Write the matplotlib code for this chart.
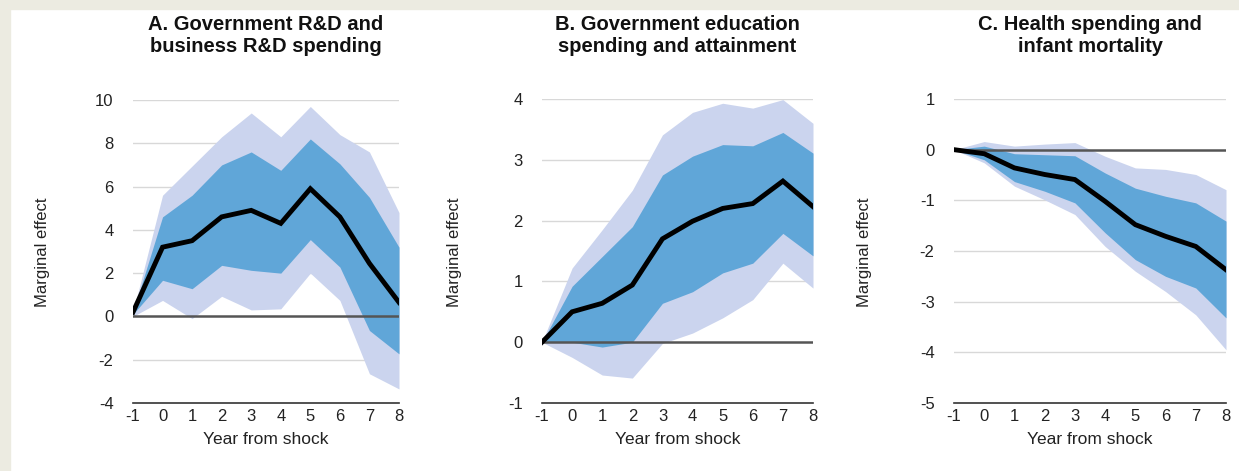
import numpy as np
import matplotlib
matplotlib.use('Agg')
import matplotlib.pyplot as plt
from matplotlib.patches import Rectangle

plt.rcParams['font.family'] = ['Liberation Sans', 'DejaVu Sans']
plt.rcParams['axes.unicode_minus'] = False

years = [-1, 0, 1, 2, 3, 4, 5, 6, 7, 8]

# Panel A: Government R&D and business R&D spending
a_mid = [0.2, 3.2, 3.5, 4.6, 4.9, 4.3, 5.9, 4.6, 2.45, 0.65]
a_in_hi = [0.2, 4.6, 5.6, 7.0, 7.6, 6.75, 8.2, 7.05, 5.5, 3.2]
a_in_lo = [0.1, 1.67, 1.28, 2.36, 2.13, 2.0, 3.55, 2.28, -0.65, -1.73]
a_out_hi = [0.2, 5.6, 6.95, 8.3, 9.4, 8.3, 9.7, 8.4, 7.6, 4.8]
a_out_lo = [0.0, 0.74, -0.1, 0.93, 0.3, 0.35, 2.0, 0.74, -2.65, -3.35]

# Panel B: Government education spending and attainment
b_mid = [0.0, 0.5, 0.64, 0.94, 1.7, 1.99, 2.2, 2.28, 2.65, 2.23]
b_in_hi = [0.0, 0.92, 1.41, 1.9, 2.75, 3.06, 3.25, 3.23, 3.45, 3.11]
b_in_lo = [0.0, 0.0, -0.08, 0.0, 0.64, 0.83, 1.14, 1.3, 1.79, 1.42]
b_out_hi = [0.0, 1.22, 1.85, 2.5, 3.41, 3.78, 3.93, 3.85, 3.99, 3.6]
b_out_lo = [0.0, -0.25, -0.54, -0.59, -0.02, 0.15, 0.4, 0.7, 1.3, 0.89]

# Panel C: Health spending and infant mortality
c_mid = [0.0, -0.08, -0.36, -0.49, -0.59, -1.02, -1.48, -1.71, -1.91, -2.37]
c_in_hi = [0.0, 0.07, -0.08, -0.1, -0.12, -0.46, -0.76, -0.92, -1.05, -1.41]
c_in_lo = [0.0, -0.2, -0.63, -0.82, -1.05, -1.64, -2.17, -2.5, -2.73, -3.32]
c_out_hi = [0.0, 0.16, 0.07, 0.11, 0.14, -0.13, -0.36, -0.39, -0.49, -0.79]
c_out_lo = [0.0, -0.26, -0.72, -0.99, -1.28, -1.91, -2.4, -2.8, -3.26, -3.95]

titles = ['A. Government R&D and\nbusiness R&D spending',
          'B. Government education\nspending and attainment',
          'C. Health spending and\ninfant mortality']
yticks = [[-4, -2, 0, 2, 4, 6, 8, 10], [-1, 0, 1, 2, 3, 4], [-5, -4, -3, -2, -1, 0, 1]]

W, H = 1239, 471
fig = plt.figure(figsize=(W / 100, H / 100), dpi=100)

# beige frame at top and left
fig.patches.append(Rectangle((0, 1 - 9 / H), 1, 9 / H, transform=fig.transFigure,
                             color='#ecebe1', zorder=0))
fig.patches.append(Rectangle((0, 0), 10 / W, 1, transform=fig.transFigure,
                             color='#ecebe1', zorder=0))

# axes boxes in pixels: left, right, top, bottom
boxes = [(133, 399, 100, 403), (542, 813, 99, 403), (954, 1226, 99, 403)]
ylabel_x = [42, 455, 865]

panels = [(a_mid, a_in_hi, a_in_lo, a_out_hi, a_out_lo),
          (b_mid, b_in_hi, b_in_lo, b_out_hi, b_out_lo),
          (c_mid, c_in_hi, c_in_lo, c_out_hi, c_out_lo)]

for i, (mid, in_hi, in_lo, out_hi, out_lo) in enumerate(panels):
    l, r, t, b = boxes[i]
    ax = fig.add_axes([l / W, 1 - b / H, (r - l) / W, (b - t) / H])
    yt = yticks[i]
    ax.set_xlim(-1, 8)
    ax.set_ylim(yt[0], yt[-1])
    for v in yt[1:]:
        if v != 0:
            ax.axhline(v, color='#d8d8d8', lw=1, zorder=0)
    ax.fill_between(years, out_lo, out_hi, color='#cbd4ee', lw=0, zorder=1)
    ax.fill_between(years, in_lo, in_hi, color='#60a6d8', lw=0, zorder=2)
    ax.axhline(0, color='#555555', lw=1.8, zorder=3)
    ax.plot(years, mid, color='black', lw=3.5, zorder=4, solid_joinstyle='miter')

    for s in ['top', 'right', 'left']:
        ax.spines[s].set_visible(False)
    ax.spines['bottom'].set_color('#333333')
    ax.spines['bottom'].set_linewidth(1.2)
    ax.set_xticks(years)
    ax.set_yticks(yt)
    ax.tick_params(length=0, labelsize=12, colors='#222222')
    ax.tick_params(axis='y', pad=14)
    ax.tick_params(axis='x', pad=4)
    ax.set_xlabel('Year from shock', fontsize=12.5, color='#222222', labelpad=6)
    fig.text((l + r) / 2 / W, 1 - 36 / H, titles[i], ha='center', va='center',
             fontsize=14.5, fontweight='bold', color='#111111', linespacing=1.2)
    fig.text(ylabel_x[i] / W, 1 - 252 / H, 'Marginal effect', rotation=90,
             ha='center', va='center', fontsize=12, color='#222222')

plt.savefig('out.png', dpi=100)
